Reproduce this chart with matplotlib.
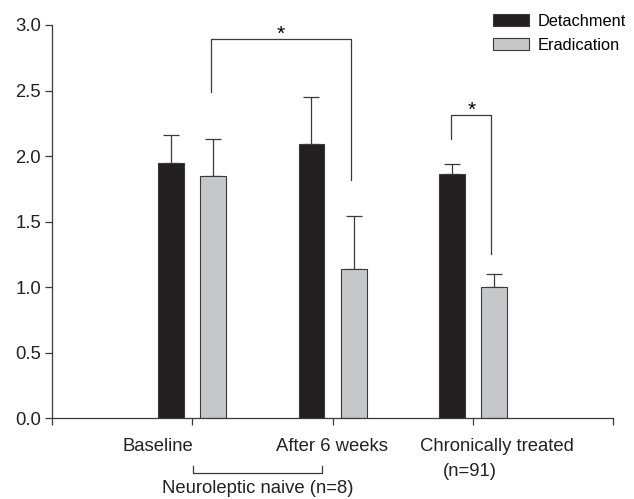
import numpy as np
import matplotlib.pyplot as plt

plt.rcParams['font.family'] = ['Liberation Sans', 'DejaVu Sans']

# data
groups = ['Baseline', 'After 6 weeks', 'Chronically treated']
detachment = [1.95, 2.09, 1.86]
detachment_err = [0.21, 0.36, 0.08]
eradication = [1.85, 1.14, 1.00]
eradication_err = [0.28, 0.40, 0.10]

black = '#231f20'
grey = '#c6c7c9'
edge = '#3a3a3a'

fig = plt.figure(figsize=(6.34, 4.99), dpi=100)
ax = fig.add_axes([0.082, 0.1623, 0.885, 0.7876])

x = np.arange(1, len(groups) + 1)
off = 0.15
w = 0.185
ax.bar(x - off, detachment, w, color=black, edgecolor=edge, linewidth=0.8,
       label='Detachment', zorder=2)
ax.bar(x + off, eradication, w, color=grey, edgecolor=edge, linewidth=0.8,
       label='Eradication', zorder=2)
# upper error bars only
ax.errorbar(x - off, detachment, yerr=[np.zeros(3), detachment_err], fmt='none',
            ecolor=edge, elinewidth=0.9, capsize=6, capthick=0.9, zorder=1)
ax.errorbar(x + off, eradication, yerr=[np.zeros(3), eradication_err], fmt='none',
            ecolor=edge, elinewidth=0.9, capsize=6, capthick=0.9, zorder=1)

fs = 13.3
ax.set_xlim(0, 4)
ax.set_ylim(0, 3.0)
ax.set_yticks(np.arange(0, 3.01, 0.5))
ax.set_yticklabels(['%.1f' % v for v in np.arange(0, 3.01, 0.5)], fontsize=fs, color='#222222')
ax.set_xticks([0, 1, 2, 3, 4])
ax.set_xticklabels([])
ax.tick_params(direction='out', length=5, width=0.9, color=edge, pad=3)
for s in ['top', 'right']:
    ax.spines[s].set_visible(False)
for s in ['left', 'bottom']:
    ax.spines[s].set_color(edge)
    ax.spines[s].set_linewidth(0.9)

# significance brackets
ax.plot([1.134, 1.134, 2.13, 2.13], [2.49, 2.89, 2.89, 1.82], color=edge, lw=0.9)
ax.text(1.632, 2.93, '*', ha='center', va='center', fontsize=15)
ax.plot([2.845, 2.845, 3.13, 3.13], [2.13, 2.31, 2.31, 1.25], color=edge, lw=0.9)
ax.text(2.99, 2.35, '*', ha='center', va='center', fontsize=15)

# category labels
tr = ax.get_xaxis_transform()
lab_kw = dict(fontsize=fs, color='#222222', transform=tr, ha='center', va='center', clip_on=False)
ax.text(0.755, -0.072, groups[0], **lab_kw)
ax.text(1.996, -0.072, groups[1], **lab_kw)
ax.text(3.17, -0.072, groups[2], **lab_kw)
ax.text(2.98, -0.137, '(n=91)', **lab_kw)
ax.plot([1.005, 1.005, 1.925, 1.925], [-0.122, -0.141, -0.141, -0.122], color=edge,
        lw=0.9, transform=tr, clip_on=False)
ax.text(1.47, -0.18, 'Neuroleptic naive (n=8)', **lab_kw)

leg = ax.legend(loc='upper left', bbox_to_anchor=(0.7857, 1.028), frameon=False, fontsize=11.8,
                handlelength=2.2, handleheight=0.75, handletextpad=0.55, labelspacing=0.55,
                borderpad=0, borderaxespad=0)

fig.savefig('out.png', dpi=100)
